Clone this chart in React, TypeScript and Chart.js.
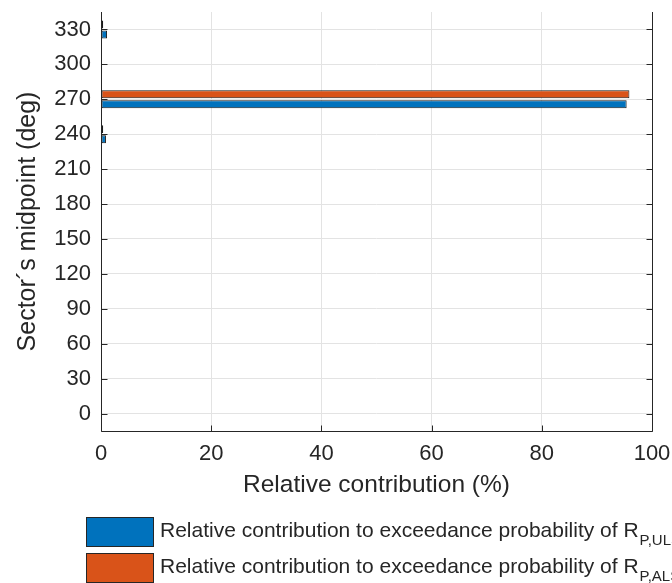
import { useEffect, useRef } from "react";
import { Chart, registerables } from "chart.js";

Chart.register(...registerables);

// Sector midpoints (deg) and relative contributions (%) per limit state
const sectors = [0, 30, 60, 90, 120, 150, 180, 210, 240, 270, 300, 330];
const ulsContribution = [0, 0, 0, 0, 0, 0, 0, 0, 0.9, 95.4, 0.2, 1.1];
const alsContribution = [0, 0, 0, 0, 0, 0, 0, 0, 0.4, 95.9, 0.05, 0.4];
const xTickValues = [0, 20, 40, 60, 80, 100];

const ulsLabel = "Relative contribution to exceedance probability of R";
const ulsSub = "P,ULS";
const alsLabel = "Relative contribution to exceedance probability of R";
const alsSub = "P,ALS";

const ULS_COLOR = "#0072BD";
const ALS_COLOR = "#D95319";
const TEXT_COLOR = "#262626";
const GRID_COLOR = "#e3e3e3";
const FONT = "'Liberation Sans', Arial, Helvetica, sans-serif";

// Top-to-bottom order on the category axis
const yLabels = [...sectors].reverse().map(String);
const ulsTopDown = [...ulsContribution].reverse();
const alsTopDown = [...alsContribution].reverse();

const legendEntries = [
  { text: ulsLabel, sub: ulsSub, color: ULS_COLOR },
  { text: alsLabel, sub: alsSub, color: ALS_COLOR },
];

// Axis lines with inward tick marks (left, bottom, right)
const framePlugin = {
  id: "frame",
  afterDatasetsDraw(chart: any) {
    const { ctx, chartArea, scales } = chart;
    const { left, right, top, bottom } = chartArea;
    const L = Math.round(left) + 0.5;
    const R = Math.round(right) + 0.5;
    const B = Math.round(bottom) + 0.5;
    ctx.save();
    ctx.strokeStyle = TEXT_COLOR;
    ctx.lineWidth = 1;
    ctx.beginPath();
    ctx.moveTo(L, top);
    ctx.lineTo(L, B);
    ctx.lineTo(R, B);
    ctx.lineTo(R, top);
    const tl = 6;
    yLabels.forEach((_, i) => {
      const y = Math.round(scales.y.getPixelForValue(i)) + 0.5;
      ctx.moveTo(L, y);
      ctx.lineTo(L + tl, y);
      ctx.moveTo(R, y);
      ctx.lineTo(R - tl, y);
    });
    xTickValues.forEach((v) => {
      const x = Math.round(scales.x.getPixelForValue(v)) + 0.5;
      ctx.moveTo(x, B);
      ctx.lineTo(x, B - tl);
    });
    ctx.stroke();
    ctx.restore();
  },
};

// Legend below the axes, with subscripted symbol names
const legendPlugin = {
  id: "subLegend",
  afterDraw(chart: any) {
    const { ctx } = chart;
    ctx.save();
    const boxX = 86.5;
    const boxW = 67;
    const boxH = 29;
    const rows = [517.5, 553.5];
    legendEntries.forEach((entry, i) => {
      const y = rows[i];
      ctx.fillStyle = entry.color;
      ctx.fillRect(boxX, y, boxW, boxH);
      ctx.strokeStyle = TEXT_COLOR;
      ctx.lineWidth = 1;
      ctx.strokeRect(boxX, y, boxW, boxH);
      ctx.fillStyle = TEXT_COLOR;
      ctx.textBaseline = "alphabetic";
      ctx.textAlign = "left";
      ctx.font = `21px ${FONT}`;
      const tx = 160;
      const base = y + 19;
      ctx.fillText(entry.text, tx, base);
      const w = ctx.measureText(entry.text).width;
      ctx.font = `15px ${FONT}`;
      ctx.fillText(entry.sub, tx + w + 1, base + 8);
    });
    ctx.restore();
  },
};

export default function App() {
  const canvasRef = useRef<HTMLCanvasElement | null>(null);

  useEffect(() => {
    const canvas = canvasRef.current;
    if (!canvas) return;
    const chart = new Chart(canvas, {
      type: "bar",
      data: {
        labels: yLabels,
        datasets: [
          {
            label: alsLabel + alsSub,
            data: alsTopDown,
            backgroundColor: ALS_COLOR,
            borderColor: "#1a1a1a",
            borderWidth: 1,
            borderSkipped: false,
          },
          {
            label: ulsLabel + ulsSub,
            data: ulsTopDown,
            backgroundColor: ULS_COLOR,
            borderColor: "#1a1a1a",
            borderWidth: 1,
            borderSkipped: false,
          },
        ],
      },
      options: {
        indexAxis: "y",
        animation: false,
        responsive: false,
        maintainAspectRatio: false,
        layout: { padding: { top: 12, right: 20, bottom: 82, left: 0 } },
        datasets: {
          bar: { categoryPercentage: 0.575, barPercentage: 0.8 },
        },
        plugins: {
          legend: { display: false },
          tooltip: { enabled: false },
        },
        scales: {
          x: {
            type: "linear",
            min: 0,
            max: 100,
            afterBuildTicks: (scale: any) => {
              scale.ticks = xTickValues.map((v) => ({ value: v }));
            },
            afterFit: (scale: any) => {
              scale.height = 70;
              scale.paddingLeft = 0;
              scale.paddingRight = 0;
            },
            grid: { color: GRID_COLOR, drawTicks: false },
            border: { display: false },
            ticks: {
              color: TEXT_COLOR,
              font: { family: FONT, size: 22 },
              padding: 10,
              maxRotation: 0,
            },
            title: {
              display: true,
              text: "Relative contribution (%)",
              color: TEXT_COLOR,
              font: { family: FONT, size: 24.5 },
              padding: { top: 0, bottom: 1 },
            },
          },
          y: {
            type: "category",
            offset: true,
            afterFit: (scale: any) => {
              scale.width = 101;
              scale.paddingTop = 0;
              scale.paddingBottom = 0;
            },
            grid: { color: GRID_COLOR, drawTicks: false, offset: false },
            border: { display: false },
            ticks: {
              color: TEXT_COLOR,
              font: { family: FONT, size: 22 },
              padding: 10,
              autoSkip: false,
            },
            title: {
              display: true,
              text: "Sector´s midpoint (deg)",
              color: TEXT_COLOR,
              font: { family: FONT, size: 25 },
              padding: { top: 13, bottom: 0 },
            },
          },
        },
      },
      plugins: [framePlugin, legendPlugin],
    });
    return () => chart.destroy();
  }, []);

  return (
    <div
      style={{
        position: "absolute",
        left: 0,
        top: 0,
        width: 672,
        height: 583,
        background: "#ffffff",
      }}
    >
      <canvas ref={canvasRef} width={672} height={583} style={{ display: "block" }} />
    </div>
  );
}
